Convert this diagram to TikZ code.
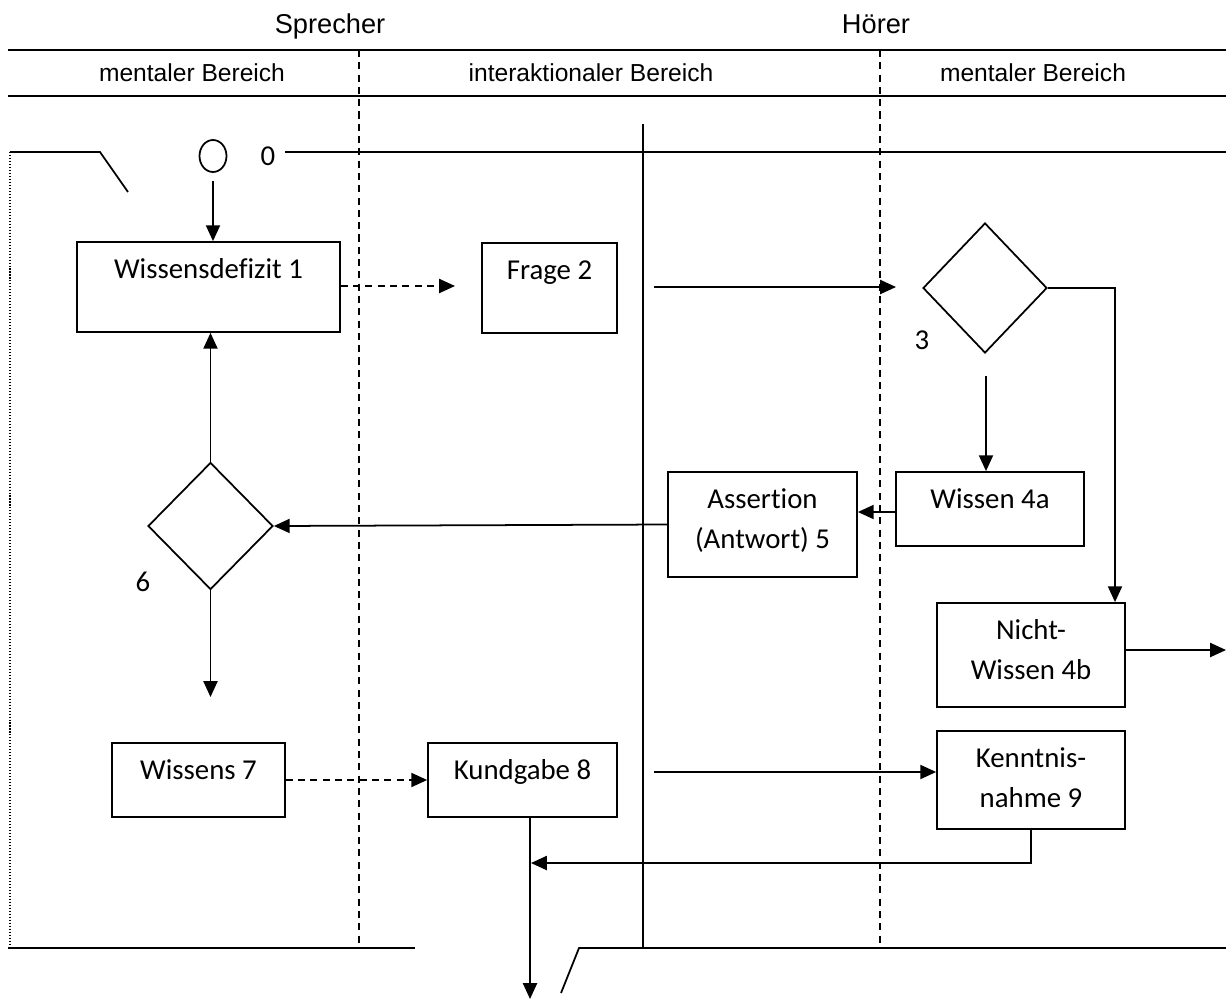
\documentclass[tikz,border=0pt]{standalone}
\usepackage{fontspec}
\setmainfont{Carlito}[RawFeature={-liga;-clig;-dlig}]
\newfontfamily\hdrfont{Liberation Sans}
\usetikzlibrary{arrows.meta,shapes.geometric}
\newcommand{\bt}[3]{\parbox[c][#2][t]{#1}{\centering\fontsize{16.4}{22.7}\selectfont\rule{0pt}{21pt}#3\par}}
\begin{document}
\begin{tikzpicture}[x=0.02cm,y=-0.02cm,line width=1pt,
  box/.style={draw,rectangle,inner sep=0pt,line width=1pt},
  dia/.style={draw,diamond,inner sep=0pt,shape aspect=1,line width=1pt},
  arr/.style={-{Triangle[length=9pt,width=8pt]}},
  dsh/.style={dash pattern=on 4pt off 3pt},
  dots/.style={dash pattern=on 0.6pt off 1.1pt,line width=0.8pt},
  hdr/.style={inner sep=0pt,anchor=base,font=\hdrfont\fontsize{15.5}{18}\selectfont},
  sub/.style={inner sep=0pt,anchor=base,font=\hdrfont\fontsize{14}{17}\selectfont},
  num/.style={inner sep=0pt,font=\fontsize{16.4}{19}\selectfont},
  hline/.style={line width=1.3pt}]
\useasboundingbox (0,0) rectangle (1226,1001);

% header
\node[hdr] (sp) at (330,33) {Sprecher};
\node[hdr] (ho) at (876,33) {Hörer};
\node[sub] (m1) at (192,81) {mentaler Bereich};
\node[sub] (ia) at (591,81) {interaktionaler Bereich};
\node[sub] (m2) at (1033,81) {mentaler Bereich};
\draw[hline] (8,50) -- (1226,50);
\draw[hline] (8,96) -- (1226,96);

% lanes
\draw[dsh] (359,50) -- (359,948);
\draw[dsh] (880,50) -- (880,948);
\draw (643,124) -- (643,948);
\draw[dots] (10,152) -- (10,948);

% top and bottom frame lines
\draw (10,152) -- (100,152) -- (128,192);
\draw (285,152) -- (1226,152);
\draw (8,948) -- (415,948);
\draw (561,993) -- (579,948) -- (1226,948);

% nodes
\node[draw,ellipse,inner sep=0pt,minimum width=0.54cm,minimum height=0.64cm] (c0) at (213,156) {};
\node[num] (n0) at (268,156) {0};
\node[box] (wd) at (208.5,287) {\bt{5.26cm}{1.8cm}{Wissensdefizit 1}};
\node[box] (fr) at (549.5,288) {\bt{2.7cm}{1.8cm}{Frage 2}};
\node[dia,minimum width=2.48cm,minimum height=2.6cm] (d3) at (985,288) {};
\node[num] (n3) at (922,340) {3};
\node[box] (w4) at (990,509) {\bt{3.76cm}{1.48cm}{Wissen 4a}};
\node[box] (as) at (762.5,524.5) {\bt{3.78cm}{2.1cm}{Assert\kern0pt ion\\(Antwort) 5}};
\node[dia,minimum width=2.5cm,minimum height=2.54cm] (d6) at (210.5,526) {};
\node[num] (n6) at (143,582) {6};
\node[box] (nw) at (1031,655) {\bt{3.76cm}{2.08cm}{Nicht-\\Wissen 4b}};
\node[box] (kn) at (1031,780) {\bt{3.76cm}{1.96cm}{Kenntnis-\\nahme 9}};
\node[box] (wk) at (198.5,780) {\bt{3.46cm}{1.48cm}{Wissens 7}};
\node[box] (kg) at (522.5,780) {\bt{3.78cm}{1.48cm}{Kundgabe 8}};

% free ends
\coordinate (fa) at (455,286);
\coordinate (fb) at (654,287);
\coordinate (fc) at (896,287);
\coordinate (k1) at (1115,0);
\coordinate (k3) at (986,376);
\coordinate (e6) at (210.5,697);
\coordinate (eo) at (1226,650);
\coordinate (kb) at (654,772);
\coordinate (ks) at (530,817);
\coordinate (ke) at (530,999);
\coordinate (kj) at (531,863);

% connectors
\draw[arr,shorten <=0.16cm] (c0.south) -- (c0.south |- wd.north);
\draw[arr,dsh] (wd.east |- fa) -- (fa);
\draw[arr] (fb) -- (fc);
\draw[arr] (d3.east) -| (k1 |- nw.north);
\draw[arr] (k3) -- (k3 |- w4.north);
\draw[arr] (w4.west |- 0,512) -- (as.east |- 0,512);
\draw[arr] (as.west) -- (d6.east);
\draw[arr] (d6.north) -- (d6.north |- wd.south);
\draw[arr] (d6.south) -- (e6);
\draw[arr] (nw.east |- eo) -- (eo);
\draw[arr,dsh] (wk.east) -- (kg.west);
\draw[arr] (kb) -- (kn.west |- kb);
\draw[arr] (ks) -- (ke);
\draw[arr] (kn.south) |- (kj);
\end{tikzpicture}
\end{document}
